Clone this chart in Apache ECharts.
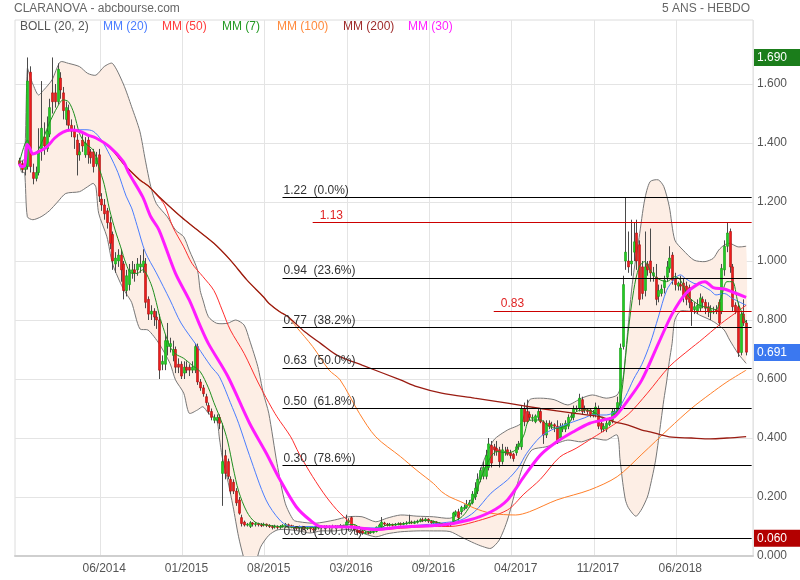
<!DOCTYPE html>
<html><head><meta charset="utf-8">
<script src="https://cdn.jsdelivr.net/npm/echarts@6/dist/echarts.min.js"></script>
<style>html,body{margin:0;padding:0;background:#fff}#c{width:800px;height:580px}</style>
</head><body><div id="c"></div>
<script>
// ---- weekly candles (week 0 .. 265) ----
const opens = [
1.34,1.33,1.31,1.32,1.64,1.30,1.28,1.30,1.38,1.42,
1.38,1.43,1.57,1.57,1.54,1.62,1.57,1.48,1.51,1.46,
1.44,1.41,1.36,1.41,1.36,1.41,1.37,1.37,1.33,1.36,
1.21,1.19,1.17,1.13,1.09,0.99,1.00,1.02,0.99,0.90,
0.92,0.96,0.97,0.97,0.98,0.98,0.99,0.87,0.82,0.83,
0.81,0.80,0.65,0.65,0.71,0.71,0.68,0.70,0.65,0.65,
0.62,0.64,0.64,0.63,0.63,0.71,0.59,0.57,0.54,0.51,
0.49,0.46,0.46,0.47,0.28,0.34,0.32,0.26,0.25,0.22,
0.19,0.13,0.115,0.105,0.10,0.112,0.108,0.11,0.106,0.105,
0.108,0.104,0.10,0.098,0.10,0.097,0.10,0.103,0.106,0.103,
0.10,0.097,0.095,0.098,0.096,0.094,0.096,0.092,0.09,0.094,
0.098,0.10,0.097,0.10,0.099,0.101,0.098,0.10,0.103,0.10,
0.115,0.13,0.10,0.088,0.085,0.085,0.078,0.08,0.079,0.08,
0.083,0.095,0.10,0.112,0.108,0.104,0.107,0.105,0.108,0.11,
0.107,0.11,0.112,0.115,0.112,0.114,0.118,0.123,0.12,0.125,
0.118,0.112,0.115,0.11,0.107,0.104,0.106,0.105,0.11,0.14,
0.15,0.15,0.16,0.165,0.17,0.18,0.20,0.22,0.26,0.27,
0.27,0.30,0.375,0.37,0.365,0.36,0.32,0.35,0.36,0.35,
0.345,0.35,0.37,0.37,0.50,0.49,0.48,0.47,0.455,0.47,
0.49,0.455,0.41,0.45,0.44,0.445,0.44,0.40,0.43,0.43,
0.44,0.47,0.47,0.50,0.50,0.53,0.50,0.495,0.495,0.48,
0.48,0.50,0.45,0.43,0.43,0.445,0.46,0.48,0.485,0.51,
0.71,1.00,1.00,0.99,1.03,1.095,1.055,0.98,0.90,0.99,
1.00,0.95,0.945,0.88,0.89,0.91,0.945,0.975,1.02,0.94,
0.915,0.92,0.925,0.915,0.91,0.86,0.835,0.83,0.84,0.87,
0.86,0.845,0.825,0.83,0.835,0.86,0.83,0.97,1.05,1.10,
0.98,0.85,0.845,0.69,0.82,0.79];
const closes = [
1.33,1.31,1.33,1.61,1.32,1.28,1.30,1.37,1.45,1.39,
1.44,1.52,1.54,1.54,1.65,1.58,1.51,1.52,1.46,1.44,
1.42,1.36,1.37,1.39,1.40,1.36,1.35,1.32,1.35,1.22,
1.19,1.16,1.13,1.06,1.00,1.01,1.02,0.97,0.90,0.95,
0.97,0.97,0.96,0.99,0.99,1.00,0.86,0.82,0.83,0.81,
0.80,0.63,0.66,0.73,0.73,0.72,0.70,0.64,0.64,0.61,
0.64,0.63,0.63,0.64,0.71,0.59,0.57,0.55,0.52,0.49,
0.47,0.47,0.47,0.45,0.32,0.28,0.27,0.22,0.22,0.18,
0.145,0.11,0.105,0.108,0.113,0.108,0.11,0.106,0.105,0.108,
0.104,0.10,0.098,0.101,0.097,0.10,0.104,0.107,0.103,0.10,
0.097,0.095,0.098,0.096,0.094,0.096,0.092,0.09,0.094,0.098,
0.10,0.097,0.10,0.099,0.101,0.098,0.10,0.103,0.10,0.115,
0.12,0.10,0.09,0.08,0.08,0.078,0.08,0.079,0.082,0.083,
0.098,0.105,0.115,0.108,0.104,0.107,0.105,0.108,0.11,0.107,
0.11,0.112,0.115,0.112,0.114,0.118,0.123,0.12,0.125,0.118,
0.112,0.115,0.11,0.107,0.104,0.106,0.105,0.11,0.146,0.15,
0.13,0.165,0.165,0.175,0.18,0.21,0.23,0.26,0.29,0.30,
0.34,0.38,0.315,0.36,0.355,0.32,0.36,0.355,0.345,0.34,
0.33,0.37,0.38,0.50,0.455,0.455,0.47,0.47,0.475,0.49,
0.455,0.41,0.45,0.44,0.445,0.44,0.39,0.44,0.44,0.45,
0.47,0.475,0.50,0.50,0.535,0.49,0.495,0.49,0.48,0.485,
0.505,0.44,0.43,0.44,0.45,0.455,0.49,0.49,0.52,0.705,
0.92,1.03,0.98,1.00,1.065,1.00,0.87,0.89,0.98,0.97,
0.96,0.96,0.87,0.90,0.905,0.935,0.98,1.01,0.935,0.92,
0.925,0.915,0.88,0.87,0.86,0.83,0.845,0.85,0.875,0.86,
0.84,0.83,0.835,0.83,0.83,0.79,0.975,1.05,1.095,0.98,
0.845,0.83,0.69,0.82,0.79,0.691];
const lows = [
1.32,1.30,1.29,1.31,1.30,1.26,1.27,1.29,1.34,1.36,
1.37,1.42,1.50,1.52,1.53,1.55,1.48,1.46,1.44,1.42,
1.38,1.29,1.34,1.37,1.35,1.33,1.33,1.30,1.32,1.20,
1.17,1.14,1.11,1.04,0.97,0.96,0.98,0.93,0.87,0.88,
0.90,0.94,0.93,0.95,0.96,0.96,0.84,0.80,0.80,0.78,
0.77,0.60,0.63,0.63,0.68,0.69,0.66,0.62,0.62,0.60,
0.60,0.62,0.61,0.62,0.62,0.58,0.56,0.54,0.51,0.48,
0.46,0.45,0.45,0.43,0.17,0.26,0.26,0.21,0.21,0.17,
0.14,0.10,0.10,0.10,0.095,0.10,0.10,0.10,0.098,0.10,
0.098,0.095,0.09,0.093,0.09,0.092,0.096,0.10,0.098,0.094,
0.09,0.088,0.09,0.09,0.088,0.088,0.08,0.078,0.085,0.09,
0.093,0.092,0.093,0.094,0.095,0.093,0.094,0.096,0.096,0.095,
0.11,0.095,0.085,0.07,0.075,0.072,0.074,0.073,0.075,0.076,
0.08,0.092,0.098,0.102,0.10,0.10,0.10,0.102,0.104,0.103,
0.104,0.106,0.108,0.108,0.108,0.11,0.114,0.115,0.116,0.112,
0.108,0.108,0.105,0.102,0.10,0.10,0.10,0.10,0.105,0.135,
0.12,0.14,0.155,0.16,0.165,0.175,0.19,0.21,0.25,0.26,
0.26,0.29,0.30,0.34,0.34,0.30,0.31,0.34,0.34,0.33,
0.32,0.34,0.36,0.36,0.44,0.45,0.46,0.455,0.45,0.46,
0.45,0.38,0.40,0.43,0.43,0.42,0.38,0.39,0.42,0.42,
0.43,0.46,0.46,0.49,0.49,0.48,0.485,0.48,0.47,0.47,
0.47,0.43,0.42,0.42,0.42,0.44,0.45,0.47,0.48,0.50,
0.70,0.97,0.96,0.95,1.00,0.97,0.85,0.87,0.88,0.95,
0.93,0.93,0.85,0.86,0.88,0.89,0.93,0.96,0.92,0.90,
0.90,0.90,0.86,0.85,0.84,0.78,0.82,0.82,0.83,0.84,
0.82,0.81,0.80,0.82,0.82,0.78,0.82,0.95,1.03,0.96,
0.83,0.82,0.675,0.68,0.78,0.68];
const highs = [
1.35,1.34,1.36,1.69,1.66,1.33,1.32,1.45,1.61,1.47,
1.49,1.55,1.69,1.60,1.67,1.64,1.59,1.54,1.53,1.48,
1.46,1.43,1.40,1.43,1.42,1.43,1.38,1.38,1.37,1.38,
1.23,1.21,1.18,1.15,1.10,1.03,1.04,1.04,1.00,0.97,
0.99,1.00,0.99,1.01,1.02,1.04,1.01,0.88,0.85,0.84,
0.83,0.82,0.68,0.75,0.79,0.74,0.73,0.71,0.67,0.66,
0.66,0.66,0.65,0.66,0.72,0.72,0.60,0.58,0.55,0.52,
0.50,0.48,0.48,0.48,0.45,0.36,0.33,0.27,0.26,0.23,
0.20,0.14,0.12,0.112,0.118,0.115,0.115,0.113,0.112,0.113,
0.11,0.108,0.105,0.106,0.104,0.105,0.108,0.112,0.11,0.106,
0.104,0.10,0.103,0.102,0.10,0.10,0.10,0.096,0.098,0.102,
0.105,0.104,0.105,0.104,0.106,0.105,0.104,0.108,0.106,0.14,
0.128,0.135,0.102,0.09,0.088,0.088,0.084,0.084,0.086,0.088,
0.10,0.11,0.132,0.116,0.112,0.112,0.11,0.112,0.114,0.114,
0.115,0.118,0.14,0.12,0.12,0.123,0.128,0.13,0.13,0.128,
0.122,0.12,0.118,0.114,0.11,0.11,0.11,0.114,0.15,0.155,
0.16,0.17,0.175,0.19,0.19,0.22,0.25,0.28,0.30,0.32,
0.36,0.40,0.39,0.38,0.39,0.37,0.38,0.37,0.37,0.36,
0.35,0.38,0.39,0.51,0.52,0.53,0.49,0.48,0.48,0.50,
0.50,0.46,0.46,0.46,0.455,0.45,0.46,0.45,0.45,0.46,
0.48,0.485,0.51,0.51,0.55,0.54,0.51,0.50,0.50,0.495,
0.52,0.51,0.46,0.45,0.46,0.47,0.50,0.50,0.54,0.72,
0.95,1.215,1.10,1.14,1.13,1.14,1.07,1.00,1.10,1.00,
1.11,0.98,0.99,0.92,0.92,0.95,1.00,1.05,1.03,0.96,
0.93,0.95,0.94,0.93,0.92,0.87,0.86,0.87,0.89,0.88,
0.87,0.86,0.85,0.845,0.85,0.87,0.99,1.07,1.13,1.11,
0.99,0.86,0.86,0.83,0.87,0.80];

// ---- indicators: [week, value] ----
const mm7 = [[0,1.33],[3,1.41],[5,1.36],[7,1.376],[11,1.467],[14,1.523],[16,1.546],[18,1.54],[20,1.50],[22,1.433],[24,1.40],[27,1.376],[29,1.32],[31,1.26],[33,1.173],[35,1.105],[37,1.048],[39,0.99],[41,0.958],[43,0.958],[45,0.97],[48,0.924],[50,0.86],[51,0.82],[53,0.76],[55,0.71],[57,0.685],[60,0.67],[63,0.647],[66,0.625],[69,0.57],[71,0.52],[74,0.45],[76,0.39],[78,0.30],[80,0.22],[83,0.15],[86,0.115],[90,0.105],[95,0.10],[100,0.097],[105,0.095],[110,0.099],[115,0.10],[119,0.105],[122,0.107],[125,0.09],[128,0.081],[131,0.09],[134,0.105],[138,0.107],[142,0.112],[146,0.118],[149,0.121],[153,0.113],[156,0.106],[158,0.115],[161,0.13],[163,0.15],[166,0.20],[169,0.28],[172,0.337],[174,0.354],[178,0.35],[181,0.36],[184,0.41],[186,0.46],[190,0.461],[193,0.44],[196,0.433],[200,0.445],[203,0.489],[207,0.495],[210,0.485],[214,0.461],[217,0.475],[219,0.52],[220,0.58],[222,0.76],[224,0.90],[226,0.98],[228,0.998],[230,0.97],[232,0.945],[236,0.93],[239,0.947],[241,0.936],[244,0.88],[248,0.85],[252,0.84],[254,0.835],[256,0.88],[258,0.93],[260,0.93],[262,0.86],[265,0.79]];
const mm20 = [[0,1.33],[1,1.32],[2,1.323],[3,1.395],[4,1.38],[5,1.363],[7,1.37],[10,1.386],[13,1.417],[16,1.437],[19,1.444],[21,1.445],[24,1.445],[27,1.44],[30,1.41],[33,1.36],[36,1.30],[39,1.22],[41,1.18],[43,1.12],[46,1.03],[50,0.96],[55,0.868],[59,0.79],[65,0.71],[70,0.642],[73,0.608],[77,0.52],[80,0.45],[84,0.34],[90,0.19],[95,0.122],[99,0.10],[110,0.10],[130,0.095],[150,0.108],[154,0.112],[161,0.122],[166,0.15],[172,0.213],[178,0.258],[182,0.30],[185,0.348],[190,0.404],[194,0.427],[197,0.438],[202,0.455],[206,0.468],[209,0.478],[214,0.478],[218,0.495],[221,0.54],[224,0.60],[227,0.65],[230,0.72],[233,0.81],[236,0.90],[239,0.941],[241,0.953],[243,0.94],[246,0.924],[248,0.92],[252,0.90],[254,0.885],[257,0.89],[260,0.873],[265,0.85]];
const mm30 = [[0,1.33],[1,1.32],[2,1.323],[3,1.395],[4,1.38],[5,1.363],[7,1.37],[10,1.386],[13,1.417],[16,1.437],[19,1.444],[22,1.44],[25,1.427],[28,1.417],[33,1.387],[38,1.337],[40,1.298],[45,1.218],[48,1.15],[51,1.105],[57,0.958],[62,0.868],[66,0.78],[69,0.72],[76,0.61],[84,0.45],[90,0.35],[95,0.26],[101,0.167],[106,0.122],[110,0.10],[121,0.098],[130,0.09],[139,0.098],[154,0.105],[164,0.122],[172,0.15],[178,0.19],[184,0.269],[190,0.342],[196,0.387],[202,0.421],[208,0.45],[213,0.461],[217,0.472],[222,0.529],[227,0.597],[233,0.72],[238,0.82],[243,0.89],[248,0.925],[250,0.93],[253,0.91],[257,0.905],[260,0.895],[265,0.877]];
const mm50 = [[0,1.33],[1,1.32],[2,1.323],[3,1.395],[4,1.38],[5,1.363],[7,1.37],[10,1.386],[13,1.417],[16,1.437],[19,1.444],[22,1.44],[25,1.427],[28,1.417],[31,1.40],[34,1.376],[38,1.33],[40,1.31],[44,1.275],[47,1.255],[50,1.225],[53,1.19],[56,1.116],[60,1.048],[63,0.992],[67,0.947],[71,0.90],[74,0.834],[77,0.766],[82,0.687],[87,0.59],[91,0.52],[94,0.472],[99,0.404],[102,0.348],[107,0.269],[112,0.20],[117,0.145],[123,0.10],[130,0.088],[139,0.094],[151,0.10],[157,0.10],[166,0.116],[178,0.156],[184,0.21],[190,0.26],[197,0.335],[203,0.365],[209,0.40],[215,0.435],[222,0.48],[229,0.552],[237,0.642],[245,0.705],[248,0.727],[256,0.789],[261,0.823],[265,0.85]];
const mm100 = [[0,1.33],[1,1.32],[2,1.323],[3,1.395],[4,1.38],[5,1.363],[7,1.37],[10,1.386],[13,1.417],[16,1.437],[19,1.444],[22,1.44],[25,1.427],[28,1.417],[31,1.40],[34,1.376],[38,1.33],[40,1.31],[44,1.275],[47,1.255],[51,1.218],[59,1.15],[65,1.105],[71,1.06],[77,1.003],[83,0.936],[89,0.879],[91,0.857],[95,0.828],[98,0.811],[101,0.777],[107,0.71],[113,0.63],[117,0.597],[124,0.484],[130,0.404],[139,0.337],[145,0.29],[151,0.246],[154,0.218],[157,0.20],[161,0.184],[166,0.162],[172,0.145],[181,0.139],[186,0.15],[196,0.19],[208,0.224],[218,0.269],[227,0.345],[237,0.433],[245,0.50],[252,0.55],[258,0.59],[265,0.63]];
const mm200 = [[0,1.33],[1,1.32],[2,1.323],[3,1.395],[4,1.38],[5,1.363],[7,1.37],[10,1.386],[13,1.417],[16,1.437],[19,1.444],[22,1.44],[25,1.427],[28,1.417],[31,1.40],[34,1.376],[38,1.33],[40,1.31],[44,1.275],[47,1.255],[51,1.218],[59,1.15],[65,1.105],[71,1.06],[77,1.003],[83,0.936],[89,0.879],[91,0.857],[95,0.828],[98,0.811],[104,0.761],[110,0.72],[116,0.68],[125,0.647],[139,0.597],[145,0.574],[154,0.552],[166,0.535],[178,0.518],[190,0.50],[202,0.484],[212,0.472],[217,0.455],[222,0.444],[227,0.427],[230,0.421],[237,0.404],[245,0.40],[252,0.397],[258,0.40],[265,0.405]];
const bollUp = [[0,1.33],[1,1.34],[2,1.345],[3,1.653],[4,1.625],[5,1.60],[7,1.563],[9,1.58],[12,1.614],[15,1.675],[18,1.67],[22,1.659],[25,1.636],[28,1.63],[31,1.659],[34,1.67],[38,1.60],[41,1.523],[44,1.44],[46,1.342],[48,1.252],[50,1.195],[54,1.15],[57,1.105],[60,1.082],[62,1.037],[65,0.97],[66,0.90],[67,0.868],[69,0.811],[72,0.789],[76,0.789],[79,0.80],[82,0.783],[84,0.732],[87,0.642],[89,0.552],[91,0.484],[94,0.314],[97,0.179],[100,0.122],[102,0.116],[108,0.111],[115,0.122],[120,0.133],[125,0.133],[130,0.116],[134,0.128],[139,0.139],[145,0.135],[151,0.133],[157,0.128],[161,0.145],[166,0.212],[169,0.314],[173,0.393],[178,0.427],[183,0.45],[186,0.529],[190,0.535],[195,0.53],[200,0.512],[205,0.535],[209,0.546],[214,0.535],[218,0.546],[220,0.597],[221,0.68],[222,0.78],[223,0.88],[224,0.96],[226,1.08],[228,1.207],[230,1.269],[233,1.275],[235,1.252],[237,1.184],[239,1.071],[242,1.037],[246,1.003],[250,0.998],[253,1.009],[255,1.037],[257,1.054],[259,1.06],[262,1.048],[265,1.05]];
const bollLow = [[0,1.33],[1,1.30],[2,1.30],[3,1.15],[5,1.14],[8,1.15],[11,1.17],[14,1.20],[17,1.229],[22,1.235],[25,1.252],[27,1.263],[28,1.25],[29,1.162],[32,1.082],[34,0.992],[37,0.924],[39,0.89],[41,0.86],[44,0.77],[47,0.766],[51,0.72],[55,0.653],[57,0.597],[60,0.552],[62,0.484],[65,0.495],[67,0.506],[69,0.484],[72,0.461],[73,0.40],[74,0.337],[76,0.258],[78,0.167],[80,0.065],[82,-0.01],[84,-0.06],[86,-0.03],[88,0.03],[91,0.07],[94,0.088],[97,0.09],[102,0.085],[106,0.078],[110,0.085],[115,0.085],[120,0.09],[125,0.078],[130,0.065],[134,0.075],[139,0.082],[145,0.085],[151,0.085],[157,0.083],[161,0.065],[166,0.043],[169,0.032],[172,0.026],[175,0.054],[178,0.122],[181,0.224],[184,0.314],[187,0.36],[192,0.37],[196,0.382],[200,0.393],[205,0.387],[209,0.399],[214,0.393],[218,0.41],[219,0.33],[220,0.25],[221,0.19],[222,0.165],[224,0.14],[225,0.135],[227,0.16],[229,0.20],[230,0.235],[232,0.325],[234,0.46],[235,0.53],[236,0.59],[237,0.66],[238,0.72],[239,0.80],[241,0.83],[244,0.83],[246,0.828],[248,0.817],[252,0.80],[254,0.789],[257,0.766],[259,0.732],[262,0.687],[264,0.664],[265,0.653]];

// ---- annotations ----
const fibValues = [1.215, 0.942, 0.774, 0.6375, 0.501, 0.307, 0.06];
const fibLabels = ['1.22  (0.0%)', '0.94  (23.6%)', '0.77  (38.2%)', '0.63  (50.0%)', '0.50  (61.8%)', '0.30  (78.6%)', '0.06  (100.0%)'];
const fibStartWeek = 96;
const resValues = [1.13, 0.83];
const resStartWeeks = [107, 173];
const tagValues = [1.69, 0.691, 0.06];
const tagTexts = ['1.690', '0.691', '0.060'];
const tagColors = ['#1b7d1b', '#3b78f0', '#b30000'];
const tickWeeks = [30, 60, 90, 120, 150, 180, 210, 240];
const tickLabels = ['06/2014', '01/2015', '08/2015', '03/2016', '09/2016', '04/2017', '11/2017', '06/2018'];
const legendTexts = ['BOLL (20, 2)', 'MM (20)', 'MM (50)', 'MM (7)', 'MM (100)', 'MM (200)', 'MM (30)'];
const legendColors = ['#555555', '#4a7dff', '#ff3b3b', '#229922', '#ff8a3d', '#9e2a2a', '#ff22ff'];
const legendX = [20, 103, 162, 222, 277, 343, 408];

// ---- build ----
const OFF = 1, NCAT = 269;
const categories = Array.from({length: NCAT}, (_, k) => 'S' + (k - OFF));
const cat = w => w + OFF;
const pairs = arr => arr.map(p => [cat(p[0]), p[1]]);
const candleData = opens.map((o, i) => [cat(i), o, closes[i], lows[i], highs[i]]);
const gridCats = new Set(tickWeeks.map(cat));
const labelMap = {};
tickWeeks.forEach((w, i) => { labelMap[cat(w) + 1] = tickLabels[i]; });
const FONT = 'Liberation Sans, Arial, Helvetica, sans-serif';

const markData = [];
fibValues.forEach((v, i) => markData.push([
  {coord: [cat(fibStartWeek), v], lineStyle: {color: '#000', width: 1, type: 'solid'},
   label: {show: true, position: 'insideStartTop', formatter: fibLabels[i], color: '#333', fontSize: 12, fontFamily: FONT, distance: 1}},
  {coord: [NCAT - 1, v]}
]));
resValues.forEach((v, i) => markData.push([
  {coord: [cat(resStartWeeks[i]), v], lineStyle: {color: '#cc0000', width: 1, type: 'solid'},
   label: {show: true, position: 'insideStartTop', formatter: v.toFixed(2), color: '#e02424', fontSize: 12, fontFamily: FONT, distance: 1, padding: [0, 0, 0, 6]}},
  {coord: [NCAT - 1, v]}
]));
tagValues.forEach((v, i) => markData.push({
  yAxis: v, lineStyle: {color: 'rgba(0,0,0,0)', width: 0},
  label: {show: true, position: 'end', formatter: tagTexts[i], color: '#fff', backgroundColor: tagColors[i],
          fontSize: 12, fontFamily: FONT, padding: [3, 20, 2, 3], distance: 1}
}));

const splitColors = [];
for (let k = 0; k < 12; k++) splitColors.push(k <= 8 ? '#e4e4e4' : 'rgba(0,0,0,0)');

const lineSeries = (name, data, color, width, z) => ({
  name, type: 'line', data: pairs(data), showSymbol: false, smooth: 0.3, z,
  lineStyle: {color, width}, silent: true
});

const chart = echarts.init(document.getElementById('c'), null, {renderer: 'canvas', width: 800, height: 580});
chart.setOption({
  animation: false,
  backgroundColor: '#fff',
  textStyle: {fontFamily: FONT},
  grid: {left: 15, right: 47, top: 20, bottom: 24, show: true, borderColor: '#dcdcdc', borderWidth: 1},
  graphic: [
    {type: 'text', left: 14, top: 3, style: {text: 'CLARANOVA - abcbourse.com', fill: '#666', font: '12px ' + FONT}},
    {type: 'text', right: 50, top: 3, style: {text: '5 ANS - HEBDO', fill: '#666', font: '12px ' + FONT}}
  ].concat(legendTexts.map((t, i) => ({
    type: 'text', left: legendX[i], top: 21, z: 100,
    style: {text: t, fill: legendColors[i], font: '12px ' + FONT}
  }))),
  xAxis: {
    type: 'category', data: categories, boundaryGap: true,
    axisLine: {show: true, lineStyle: {color: '#cfcfcf', width: 2}},
    axisTick: {show: false},
    axisLabel: {color: '#555', fontSize: 12, margin: 7, interval: (idx) => labelMap[idx] !== undefined,
                formatter: (v, idx) => labelMap[idx] || ''},
    splitLine: {show: true, interval: (idx) => gridCats.has(idx), lineStyle: {color: '#e4e4e4', width: 1}}
  },
  yAxis: {
    type: 'value', position: 'right', min: 0, max: 1.817, interval: 0.2, scale: false,
    axisLine: {show: false}, axisTick: {show: false},
    axisLabel: {color: '#555', fontSize: 12, margin: 4, formatter: v => (v > 1.7 ? '' : v.toFixed(3))},
    splitLine: {show: true, lineStyle: {color: splitColors, width: 1}}
  },
  series: [
    {
      name: 'boll', type: 'custom', z: 1, silent: true, data: [[0, 0]],
      renderItem: (params, api) => {
        const up = bollUp.map(p => api.coord([cat(p[0]), p[1]]));
        const lo = bollLow.map(p => api.coord([cat(p[0]), p[1]]));
        const cs = params.coordSys;
        return {
          type: 'group',
          clipPath: {type: 'rect', shape: {x: cs.x, y: cs.y, width: cs.width, height: cs.height}},
          children: [
            {type: 'polygon', shape: {points: up.concat(lo.slice().reverse()), smooth: 0.25}, style: {fill: '#fdeee5'}},
            {type: 'polyline', shape: {points: up, smooth: 0.25}, style: {stroke: '#777', lineWidth: 1, fill: null}},
            {type: 'polyline', shape: {points: lo, smooth: 0.25}, style: {stroke: '#777', lineWidth: 1, fill: null}}
          ]
        };
      }
    },
    {
      name: 'candles', type: 'custom', z: 3, silent: true, data: candleData,
      encode: {x: 0, y: [1, 2, 3, 4]},
      renderItem: (params, api) => {
        const x = api.value(0), o = api.value(1), c = api.value(2), l = api.value(3), h = api.value(4);
        const pO = api.coord([x, o]), pC = api.coord([x, c]), pL = api.coord([x, l]), pH = api.coord([x, h]);
        const cx = Math.round(pO[0]);
        const up = c >= o;
        const top = Math.min(pO[1], pC[1]), bot = Math.max(pO[1], pC[1]);
        return {
          type: 'group', children: [
            {type: 'line', shape: {x1: cx + 0.5, y1: pH[1], x2: cx + 0.5, y2: pL[1]}, style: {stroke: '#4a4a4a', lineWidth: 1}},
            {type: 'rect', shape: {x: cx - 0.5, y: top, width: 2, height: Math.max(bot - top, 1)},
             style: {fill: up ? '#22cc22' : '#ee1c1c', stroke: up ? '#139a13' : '#a80f0f', lineWidth: 0.6}}
          ]
        };
      }
    },
    lineSeries('MM (20)', mm20, '#4a7dff', 1, 4),
    lineSeries('MM (50)', mm50, '#ff2e2e', 1, 4),
    lineSeries('MM (7)', mm7, '#1f8f1f', 1, 4),
    lineSeries('MM (100)', mm100, '#ff7f2a', 1, 4),
    lineSeries('MM (200)', mm200, '#9a1c12', 1.3, 4),
    Object.assign(lineSeries('MM (30)', mm30, '#ff1cff', 3, 5), {
      markLine: {silent: true, symbol: ['none', 'none'], animation: false, data: markData}
    })
  ]
});
</script>
</body></html>
